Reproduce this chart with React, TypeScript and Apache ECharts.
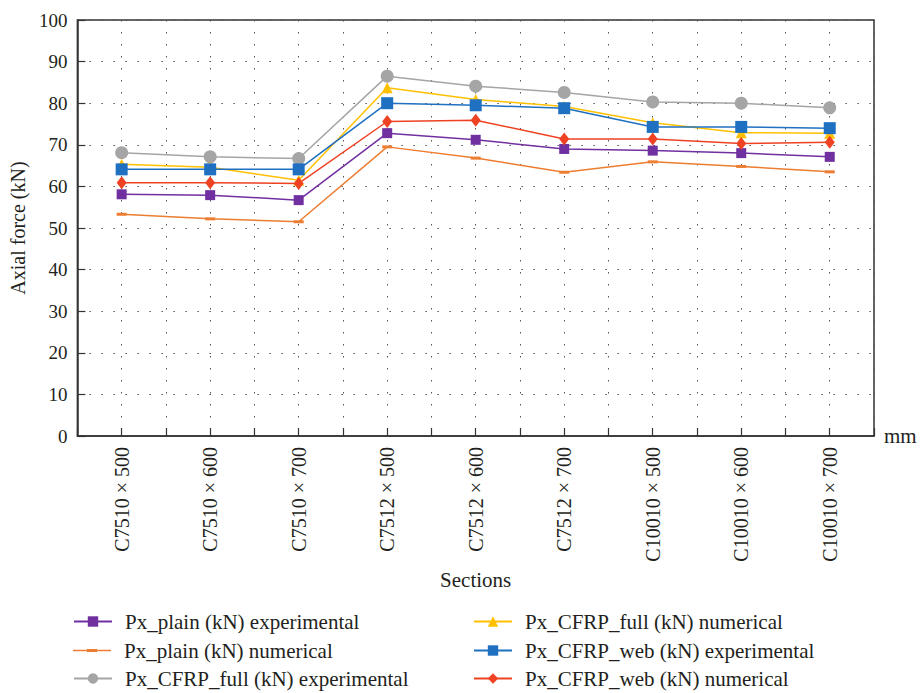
import React, { useEffect, useRef } from "react";
import * as echarts from "echarts";

const categories = [
  "C7510 × 500", "C7510 × 600", "C7510 × 700",
  "C7512 × 500", "C7512 × 600", "C7512 × 700",
  "C10010 × 500", "C10010 × 600", "C10010 × 700",
];
const plainExp = [58.1, 57.9, 56.7, 72.8, 71.2, 69.0, 68.6, 68.0, 67.1];
const plainNum = [53.3, 52.2, 51.5, 69.5, 66.8, 63.4, 65.9, 64.8, 63.5];
const fullExp = [68.1, 67.1, 66.7, 86.5, 84.1, 82.6, 80.3, 80.0, 78.9];
const fullNum = [65.3, 64.6, 61.5, 83.7, 80.9, 79.2, 75.3, 72.9, 72.8];
const webExp = [64.1, 64.1, 64.1, 80.0, 79.5, 78.8, 74.3, 74.3, 74.0];
const webNum = [60.9, 60.9, 60.7, 75.6, 75.9, 71.4, 71.4, 70.3, 70.6];
const seriesNames = [
  "Px_plain (kN) experimental",
  "Px_plain (kN) numerical",
  "Px_CFRP_full (kN) experimental",
  "Px_CFRP_full (kN) numerical",
  "Px_CFRP_web (kN) experimental",
  "Px_CFRP_web (kN) numerical",
];

const SERIF = "Liberation Serif";
const TXT = "#231F20";
const DASH = "path://M0,0H10V3H0Z";
const DASH_LEGEND =
  "path://M0,0h0.01v0.01h-0.01z M37.99,12.99h0.01v0.01h-0.01z M0,5.75H38V7.25H0Z M14,4.9H24V8.1H14Z";

export default function App() {
  const ref = useRef<HTMLDivElement>(null);
  useEffect(() => {
    document.body.style.margin = "0";
    if (!ref.current) return;
    const chart = echarts.init(ref.current, null, { renderer: "svg" });
    const dotted = { color: "#555", width: 1, type: [1.5, 10.5] as any };
    const mk = (name: string, data: number[], color: string, symbol: string, size: any) => ({
      name,
      type: "line",
      data,
      xAxisIndex: 0,
      symbol,
      symbolSize: size,
      symbolKeepAspect: true,
      lineStyle: { color, width: 1.5 },
      itemStyle: { color },
      z: 3,
    });
    const rowsY = [611, 640, 668];
    const legends = seriesNames.map((n, i) => ({
      data: i === 1 ? [{ name: n, icon: DASH_LEGEND }] : [n],
      orient: "horizontal",
      left: i < 3 ? 73 : 473,
      top: rowsY[i % 3],
      padding: 0,
      itemWidth: 38,
      itemHeight: 13,
      textStyle: { fontFamily: SERIF, fontSize: 21, color: TXT, padding: [0, 0, 0, 8] },
    }));
    chart.setOption({
      animation: false,
      backgroundColor: "#fff",
      grid: {
        left: 72, right: 47, top: 20, bottom: 257,
        show: true, borderColor: "#333", borderWidth: 1.5, containLabel: false,
      },
      legend: legends,
      xAxis: [
        {
          type: "category",
          data: categories,
          boundaryGap: true,
          axisLine: { show: false },
          axisTick: { show: false },
          splitLine: { show: false },
          axisLabel: {
            rotate: 90, margin: 11, fontFamily: SERIF,
            fontSize: 20, color: TXT, interval: 0,
          },
          name: "Sections",
          nameLocation: "middle",
          nameGap: 131,
          nameTextStyle: { fontFamily: SERIF, fontSize: 21, color: TXT },
        },
        {
          type: "value",
          min: 0, max: 18, interval: 1,
          position: "bottom",
          axisLine: { show: true, lineStyle: { color: "#333", width: 1.5 } },
          axisTick: { show: true, inside: true, length: 8, lineStyle: { color: "#333", width: 1.2 } },
          axisLabel: { show: false },
          splitLine: { show: true, lineStyle: dotted },
          name: "mm",
          nameLocation: "end",
          nameGap: 10,
          nameTextStyle: { fontFamily: SERIF, fontSize: 21, color: TXT, verticalAlign: "middle" },
        },
      ],
      yAxis: {
        type: "value",
        min: 0, max: 100, interval: 10,
        axisLine: { show: true, lineStyle: { color: "#333", width: 1.5 } },
        axisTick: { show: true, inside: true, length: 8, lineStyle: { color: "#333", width: 1.2 } },
        axisLabel: { margin: 10, fontFamily: SERIF, fontSize: 19, color: TXT },
        splitLine: { show: true, lineStyle: dotted },
        name: "Axial force (kN)",
        nameLocation: "middle",
        nameGap: 42,
        nameTextStyle: { fontFamily: SERIF, fontSize: 20, color: TXT },
      },
      series: [
        mk(seriesNames[0], plainExp, "#7030A0", "rect", 10),
        mk(seriesNames[1], plainNum, "#ED7D31", DASH, 10),
        mk(seriesNames[2], fullExp, "#A5A5A5", "circle", 13),
        mk(seriesNames[3], fullNum, "#FFC000", "triangle", 11),
        mk(seriesNames[4], webExp, "#1F70C1", "rect", 12),
        mk(seriesNames[5], webNum, "#EE4223", "diamond", [10, 13]),
      ],
    });
    return () => chart.dispose();
  }, []);
  return <div ref={ref} style={{ width: 921, height: 693 }} />;
}
